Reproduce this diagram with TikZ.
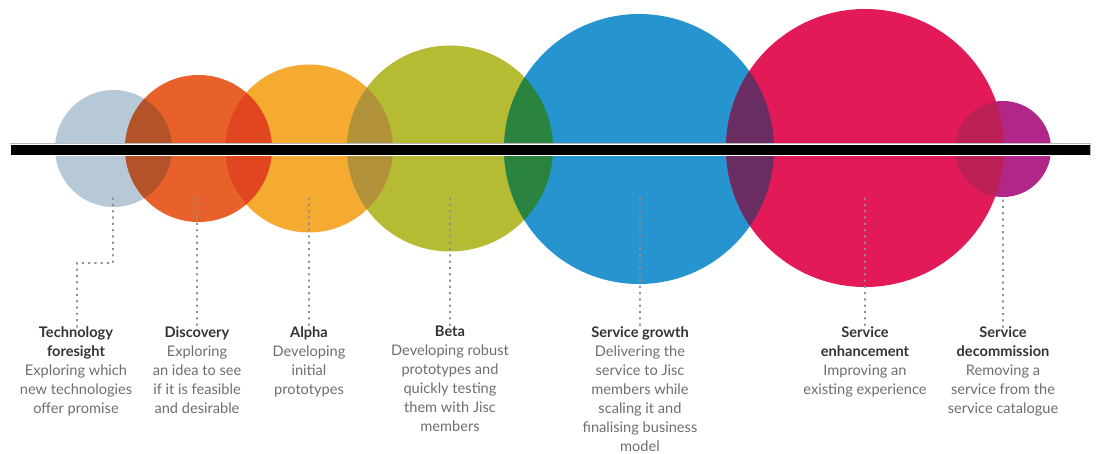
\documentclass[tikz,border=0pt]{standalone}
\usepackage{fontspec}
\newfontfamily\latofont{Lato}
\definecolor{ctf}{HTML}{B7C9D7}
\definecolor{cdisc}{HTML}{E8612A}
\definecolor{calpha}{HTML}{F5AA32}
\definecolor{cbeta}{HTML}{B5BC33}
\definecolor{cgrowth}{HTML}{2594CF}
\definecolor{cenh}{HTML}{E21A57}
\definecolor{cdecom}{HTML}{B02789}
\definecolor{otd}{HTML}{B4522A}
\definecolor{oda}{HTML}{E0461F}
\definecolor{oab}{HTML}{B29238}
\definecolor{obg}{HTML}{2A843F}
\definecolor{oge}{HTML}{6A2D62}
\definecolor{oed}{HTML}{BC2055}
\definecolor{ttlc}{HTML}{333333}
\definecolor{descc}{HTML}{6E6E6E}
\definecolor{dotc}{HTML}{8A8F96}
\newcommand\ttl[1]{{\color{ttlc}\bfseries #1}}
\tikzset{
  lbl/.style={font=\latofont\fontsize{14.6}{19}\selectfont, align=center, anchor=north, inner sep=0pt, text=descc},
  leader/.style={dotc, line width=1.3pt, dash pattern=on 1.3pt off 5pt, line cap=round}
}
\begin{document}
\begin{tikzpicture}[x=1pt,y=-1pt]
\useasboundingbox (0,0) rectangle (1099,454);
% circle centres
\coordinate (c1) at (113.5,148.5);
\coordinate (c2) at (198.5,148.5);
\coordinate (c3) at (309,148.5);
\coordinate (c4) at (450,148.5);
\coordinate (c5) at (639,149);
\coordinate (c6) at (865,148);
\coordinate (c7) at (1003,149);
% circles
\fill[ctf] (c1) circle[radius=58.5pt];
\fill[cdisc] (c2) circle[radius=73.5pt];
\fill[calpha] (c3) circle[radius=84pt];
\fill[cbeta] (c4) circle[radius=103pt];
\fill[cgrowth] (c5) circle[radius=135pt];
\fill[cenh] (c6) circle[radius=139pt];
\fill[cdecom] (c7) circle[radius=48pt];
% overlaps
\begin{scope}\clip (c1) circle[radius=58.5pt]; \fill[otd] (c2) circle[radius=73.5pt];\end{scope}
\begin{scope}\clip (c2) circle[radius=73.5pt]; \fill[oda] (c3) circle[radius=84pt];\end{scope}
\begin{scope}\clip (c3) circle[radius=84pt]; \fill[oab] (c4) circle[radius=103pt];\end{scope}
\begin{scope}\clip (c4) circle[radius=103pt]; \fill[obg] (c5) circle[radius=135pt];\end{scope}
\begin{scope}\clip (c5) circle[radius=135pt]; \fill[oge] (c6) circle[radius=139pt];\end{scope}
\begin{scope}\clip (c6) circle[radius=139pt]; \fill[oed] (c7) circle[radius=48pt];\end{scope}
% bar
\fill[gray!55] (9.5,143) rectangle (1091,156.5);
\fill[white] (10.2,143.8) rectangle (1090.3,155.7);
\fill[black] (10.8,144.8) rectangle (1089.7,154.7);
% labels
\node[lbl] (t1) at (76,326) {\ttl{Technology}\\\ttl{foresight}\\Exploring which\\new technologies\\offer promise};
\node[lbl] (t2) at (197,326) {\ttl{Discovery}\\Exploring\\an idea to see\\if it is feasible\\and desirable};
\node[lbl] (t3) at (309,326) {\ttl{Alpha}\\Developing\\initial\\prototypes};
\node[lbl] (t4) at (450,326) {\ttl{Beta}\\Developing robust\\prototypes and\\quickly testing\\them with Jisc\\members};
\node[lbl] (t5) at (640,326) {\ttl{Service growth}\\Delivering the\\service to Jisc\\members while\\scaling it and\\finalising business\\model};
\node[lbl] (t6) at (865,326) {\ttl{Service}\\\ttl{enhancement}\\Improving an\\existing experience};
\node[lbl] (t7) at (1003,326) {\ttl{Service}\\\ttl{decommission}\\Removing a\\service from the\\service catalogue};
% leaders
\coordinate (k1) at (113,263);
\coordinate (k2) at (77,263);
\draw[leader] (113,198) -- (k1) -- (k2) -- ([yshift=-4pt]k2 |- t1.north);
\draw[leader] (197,198) -- ([yshift=-4pt]t2.north);
\draw[leader] (309,198) -- ([yshift=-4pt]t3.north);
\draw[leader] (450,198) -- ([yshift=-4pt]t4.north);
\draw[leader] (640,198) -- ([yshift=-4pt]t5.north);
\draw[leader] (865,198) -- ([yshift=-4pt]t6.north);
\draw[leader] (1003,200) -- ([yshift=-4pt]t7.north);
\end{tikzpicture}
\end{document}
